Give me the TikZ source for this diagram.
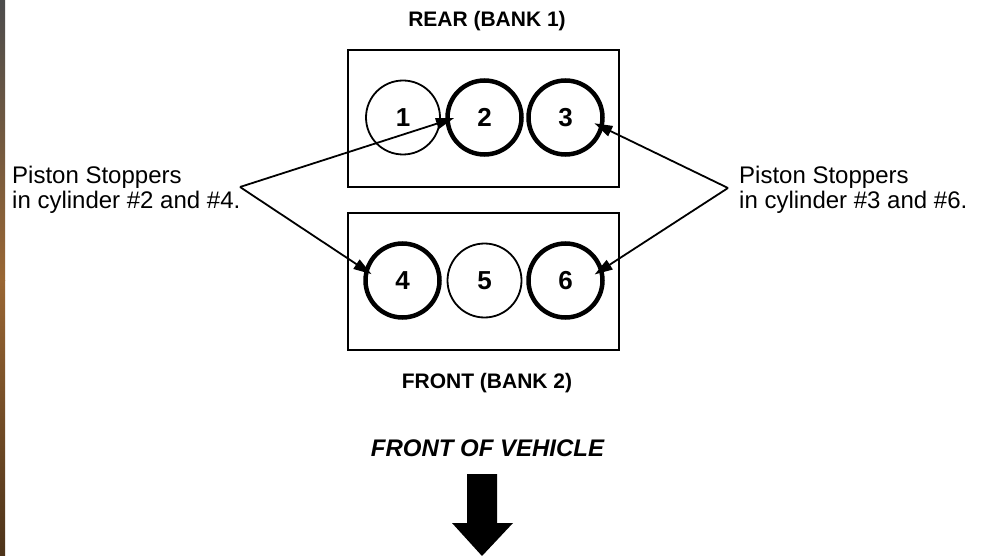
\documentclass[tikz,border=0pt]{standalone}
\usepackage{fontspec}
\setmainfont{Liberation Sans}
\usetikzlibrary{arrows.meta,calc}
\begin{document}
\begin{tikzpicture}[x=1pt,y=-1pt,
  blockbox/.style={draw=black,line width=2.2pt},
  cyl/.style={circle,draw=black,minimum size=74pt,inner sep=0pt,font=\fontsize{26}{28}\selectfont\bfseries},
  thin cyl/.style={cyl,line width=1.8pt},
  thick cyl/.style={cyl,line width=4.5pt},
  heading/.style={font=\fontsize{21}{24}\selectfont\bfseries,inner sep=0pt},
  note/.style={font=\fontsize{24}{25}\selectfont,align=left,inner sep=0pt,anchor=west},
  pointer/.style={line width=1.8pt,-{Triangle[length=18pt,width=11pt]}}
]
\useasboundingbox (0,0) rectangle (985,556);
\fill[white] (0,0) rectangle (985,556);
% photo edge at the left
\shade[top color=black!70,bottom color=brown!80!black] (0,0) rectangle (5,280);
\shade[top color=brown!80!black,bottom color=brown!40!black] (0,280) rectangle (5,556);

% blocks
\draw[blockbox] (348,50) rectangle (619,187);
\draw[blockbox] (348,213) rectangle (619,350);

% cylinders
\node[thin cyl]  (c1) at (403,117.5) {1};
\node[thick cyl] (c2) at (484.5,117.5) {2};
\node[thick cyl] (c3) at (565.5,117.5) {3};
\node[thick cyl] (c4) at (402.5,280.5) {4};
\node[thin cyl]  (c5) at (484.5,280.5) {5};
\node[thick cyl] (c6) at (565.5,280.5) {6};

% headings
\node[heading] (rear) at (487,21) {REAR (BANK 1)};
\node[heading] (front) at (487,383) {FRONT (BANK 2)};
\node[heading,font=\fontsize{24}{26}\selectfont\bfseries\itshape] (fov) at (487.5,448.5) {FRONT OF VEHICLE};

% notes
\node[note] (nl) at (12,190) {Piston Stoppers\\in cylinder \#2 and \#4.};
\node[note] (nr) at (739,190) {Piston Stoppers\\in cylinder \#3 and \#6.};

\coordinate (L) at (240,187);
\coordinate (R) at (728,188);
\draw[pointer,shorten >=-9pt] (L) -- (c2.185);
\draw[pointer,shorten >=-8pt] (L) -- (c4.164);
\draw[pointer,shorten >=-10pt] (R) -- (c3.-15);
\draw[pointer,shorten >=-10pt] (R) -- (c6.17);

% big arrow
\fill[black] (467,474) -- (497,474) -- (497,523) -- (513,523) -- (482,556) -- (452,523) -- (467,523) -- cycle;
\end{tikzpicture}
\end{document}
